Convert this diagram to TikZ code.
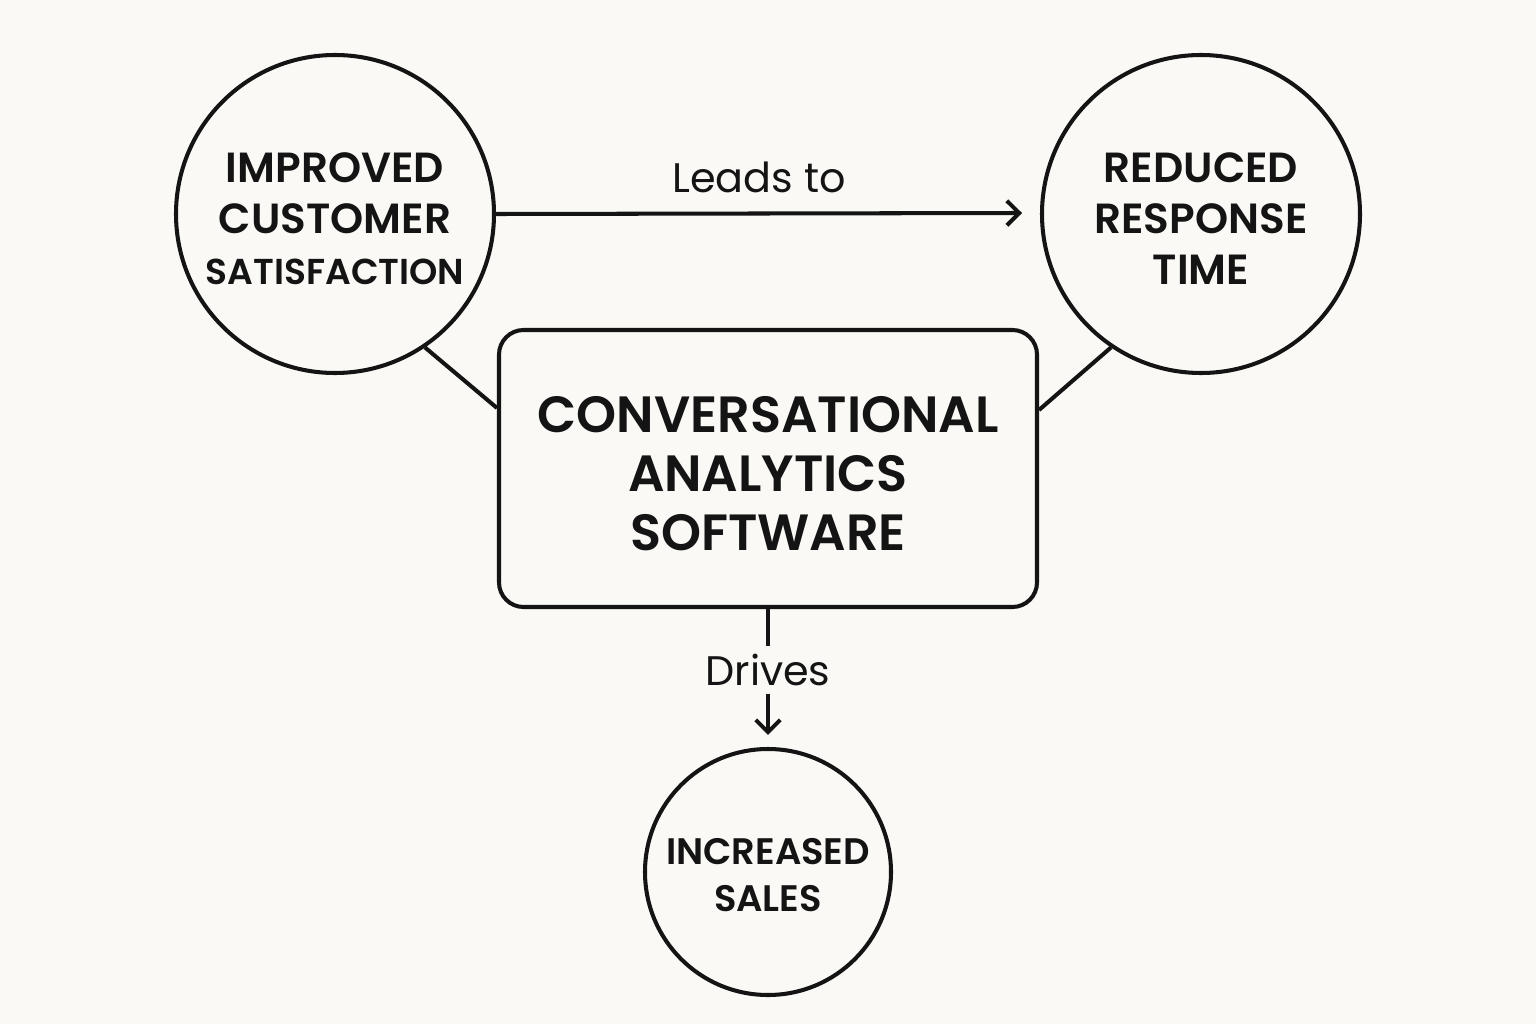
\documentclass[tikz,border=0pt]{standalone}
\usepackage{fontspec}
\setmainfont{Poppins}[BoldFont={Poppins SemiBold}]
\usetikzlibrary{calc,arrows.meta}
\definecolor{bg}{HTML}{FAF9F6}
\definecolor{ink}{HTML}{141414}
\begin{document}
\begin{tikzpicture}[x=0.02cm,y=-0.02cm,
  line width=2.3pt, draw=ink,
  circ/.style={circle,draw=ink,line width=2.3pt,inner sep=0pt},
  ctext/.style={align=center,font=\bfseries\fontsize{24}{29}\selectfont,text=ink,inner sep=0pt},
  lbl/.style={font=\fontsize{23.5}{27}\selectfont,text=ink},
  arr/.style={-{Straight Barb[length=7pt,width=14pt,line width=2.3pt]}}]
\fill[bg] (0,0) rectangle (1536,1024);
\useasboundingbox (0,0) rectangle (1536,1024);
\node[circ,minimum size=318*0.02cm] (L) at (335,214) {};
\node[ctext] (Lt) at ($(L.center)+(0,5)$) {IMPROVED\\CUSTOMER\\{\fontsize{20.5}{29}\selectfont SATISFACTION}};
\node[circ,minimum size=318*0.02cm] (R) at (1201,214) {};
\node[ctext] (Rt) at ($(R.center)+(0,5)$) {REDUCED\\RESPONSE\\TIME};
\node[circ,minimum size=246*0.02cm] (B) at (768,872) {};
\node[ctext,font=\bfseries\fontsize{21}{26.5}\selectfont] (Bt) at ($(B.center)+(0,3)$) {INCREASED\\SALES};
\node[draw=ink,line width=2.3pt,rounded corners=14pt,minimum width=538*0.02cm,minimum height=277*0.02cm] (S) at (768,468.5) {};
\node[ctext,font=\bfseries\fontsize{29}{33.5}\selectfont] (St) at ($(S.center)+(0,5)$) {CONVERSATIONAL\\ANALYTICS\\SOFTWARE};
\coordinate (ltarget) at ($(S.north west)+(0,80)$);
\coordinate (rtarget) at ($(S.north east)+(0,82)$);
\draw (L.-56) -- (ltarget);
\draw (R.-124) -- (rtarget);
\coordinate (aend) at (1022,213);
\draw[arr] (L.east) -- (aend) node[midway,above=7pt,lbl] (lt) {Leads to};
\node[lbl] (dr) at (768,670) {Drives};
\draw (S.south) -- (dr.north);
\draw[arr] (dr.south) -- ($(B.north)+(0,-12)$);
\end{tikzpicture}
\end{document}
